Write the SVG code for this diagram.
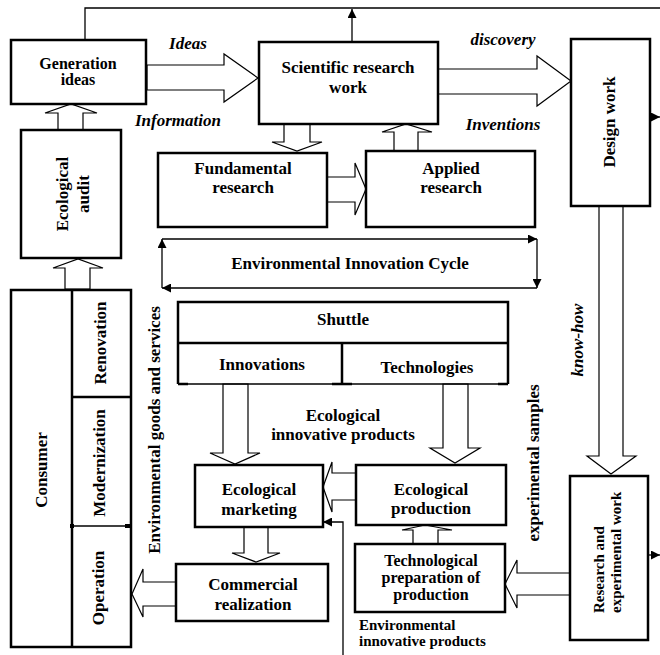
<svg xmlns="http://www.w3.org/2000/svg" width="660" height="655" viewBox="0 0 660 655">
<defs>
<style>
.box{fill:#fff;stroke:#000;stroke-width:2.5}
.blk{fill:#fff;stroke:#000;stroke-width:1.2;stroke-linejoin:miter}
.ln{fill:none;stroke:#000;stroke-width:1.3}
.thk{fill:none;stroke:#000;stroke-width:2.5}
text{font-family:"Liberation Serif","Times New Roman",serif;font-weight:bold;font-size:17px;fill:#000;text-anchor:middle}
.it{font-style:italic}
.st{text-anchor:start}
.sm{font-size:16px}
</style>
<marker id="ah" viewBox="0 0 10 10" refX="10" refY="5" markerWidth="10" markerHeight="9" markerUnits="userSpaceOnUse" orient="auto">
<path d="M0,0 L10,5 L0,10 Z" fill="#000"/>
</marker>
</defs>
<rect width="660" height="655" fill="#fff"/>

<g id="connectors">
<path class="ln" d="M85,40 V8 H660"/>
<path class="ln" d="M352,42 V9" marker-end="url(#ah)"/>
<path class="ln" d="M650,117 H660" marker-end="url(#ah)"/>
<path class="ln" d="M648,555 H660" marker-end="url(#ah)"/>
<path class="ln" d="M343,655 V522 H323" marker-end="url(#ah)"/>
<path class="ln" d="M162,239 H537" marker-end="url(#ah)"/>
<path class="ln" d="M537,239 V288" marker-end="url(#ah)"/>
<path class="ln" d="M537,288 H162" marker-end="url(#ah)"/>
<path class="ln" d="M162,288 V239" marker-end="url(#ah)"/>
<polygon class="blk" points="147,65 224,65 224,54 258,78 224,102 224,90 147,90"/>
<polygon class="blk" points="438,69 537,69 537,56 571,81 537,106 537,94 438,94"/>
<polygon class="blk" points="58,130 58,113 45,113 71,104 97,113 83,113 83,130"/>
<polygon class="blk" points="284,124 284,142 272,142 297,151 322,142 310,142 310,124"/>
<polygon class="blk" points="394,151 394,132 382,132 406,124 432,132 418,132 418,151"/>
<polygon class="blk" points="327,177 355,177 355,163 366,189 355,215 355,202 327,202"/>
<polygon class="blk" points="599,206 599,456 587,456 611,474 636,456 623,456 623,206"/>
<polygon class="blk" points="65,289 65,268 53,268 78,259 103,268 90,268 90,289"/>
<polygon class="blk" points="223,384 223,453 210,453 235,464 260,453 248,453 248,384"/>
<polygon class="blk" points="443,384 443,448 430,448 455,463 480,448 468,448 468,384"/>
<polygon class="blk" points="356,473 332,473 332,462 323,487 332,512 332,500 356,500"/>
<polygon class="blk" points="244,527 244,553 232,553 256,562 280,553 268,553 268,527"/>
<polygon class="blk" points="176,582 143,582 143,569 132,594 143,617 143,606 176,606"/>
<polygon class="blk" points="413,544 413,530 402,530 425,525 452,530 438,530 438,544"/>
<polygon class="blk" points="570,573 517,573 517,560 505,584 517,608 517,595 570,595"/>
</g>

<g id="labels">
<text class="it" x="188" y="49">Ideas</text>
<text class="it" x="178" y="126">Information</text>
<text class="it" x="503" y="45">discovery</text>
<text class="it" x="503" y="130">Inventions</text>
<text class="it" transform="translate(583,340) rotate(-90)">know-how</text>
<text x="350" y="269">Environmental Innovation Cycle</text>
<text x="343" y="421">Ecological</text>
<text x="343" y="440">innovative products</text>
<text transform="translate(160,430) rotate(-90)">Environmental goods and services</text>
<text transform="translate(539,463) rotate(-90)">experimental samples</text>
<text class="st" style="font-size:15px" x="359" y="630">Environmental</text>
<text class="st" style="font-size:15px" x="359" y="646">innovative products</text>
</g>

<g id="generation-ideas">
<rect class="box" x="11" y="40" width="135" height="64"/>
<text class="sm" x="78" y="69">Generation</text>
<text class="sm" x="78" y="85">ideas</text>
</g>

<g id="scientific-research-work">
<rect class="box" x="259" y="42" width="179" height="82"/>
<text x="348" y="73">Scientific research</text>
<text x="348" y="93">work</text>
</g>

<g id="fundamental-research">
<rect class="box" x="158" y="153" width="169" height="74"/>
<text x="243" y="174">Fundamental</text>
<text x="243" y="193">research</text>
</g>

<g id="applied-research">
<rect class="box" x="366" y="151" width="169" height="76"/>
<text x="451" y="174">Applied</text>
<text x="451" y="193">research</text>
</g>

<g id="design-work">
<rect class="box" x="571" y="39" width="79" height="167"/>
<text transform="translate(615,122) rotate(-90)">Design work</text>
</g>

<g id="ecological-audit">
<rect class="box" x="21" y="130" width="100" height="128"/>
<text transform="translate(68,194) rotate(-90)">Ecological</text>
<text transform="translate(89,194) rotate(-90)">audit</text>
</g>

<g id="consumer">
<rect class="box" x="11" y="290" width="120" height="357"/>
<path class="thk" d="M72,290 V647 M72,397 H131"/>
<path class="ln" d="M72,526 H128"/>
<rect x="70" y="524" width="4" height="4"/>
<rect x="125" y="524" width="5" height="4"/>
<text transform="translate(47,470) rotate(-90)">Consumer</text>
<text transform="translate(106,343) rotate(-90)">Renovation</text>
<text transform="translate(105,463) rotate(-90)">Modernization</text>
<text transform="translate(104,588) rotate(-90)">Operation</text>
</g>

<g id="shuttle">
<path class="thk" d="M178,384 V302 H508 V384 M178,343 H508 M342,343 V384"/>
<path class="ln" d="M178,384 H508"/>
<path class="thk" d="M178,384 H188 M332,384 H352 M498,384 H508"/>
<text x="343" y="325">Shuttle</text>
<text x="262" y="370">Innovations</text>
<text x="427" y="373">Technologies</text>
</g>

<g id="ecological-marketing">
<rect class="box" x="195" y="465" width="128" height="62"/>
<text x="259" y="495">Ecological</text>
<text x="259" y="515">marketing</text>
</g>

<g id="ecological-production">
<rect class="box" x="356" y="465" width="150" height="60"/>
<text x="431" y="495">Ecological</text>
<text x="431" y="514">production</text>
</g>

<g id="commercial-realization">
<rect class="box" x="176" y="564" width="152" height="57"/>
<text x="253" y="590">Commercial</text>
<text x="253" y="610">realization</text>
</g>

<g id="technological-preparation">
<rect class="box" x="355" y="544" width="150" height="68"/>
<text class="sm" x="431" y="566">Technological</text>
<text class="sm" x="431" y="583">preparation of</text>
<text class="sm" x="431" y="600">production</text>
</g>

<g id="research-experimental-work">
<rect class="box" x="570" y="476" width="78" height="164"/>
<text class="st" style="font-size:15px" transform="translate(604,613) rotate(-90)">Research and</text>
<text class="st" style="font-size:15px" transform="translate(621,613) rotate(-90)">experimental work</text>
</g>
</svg>
